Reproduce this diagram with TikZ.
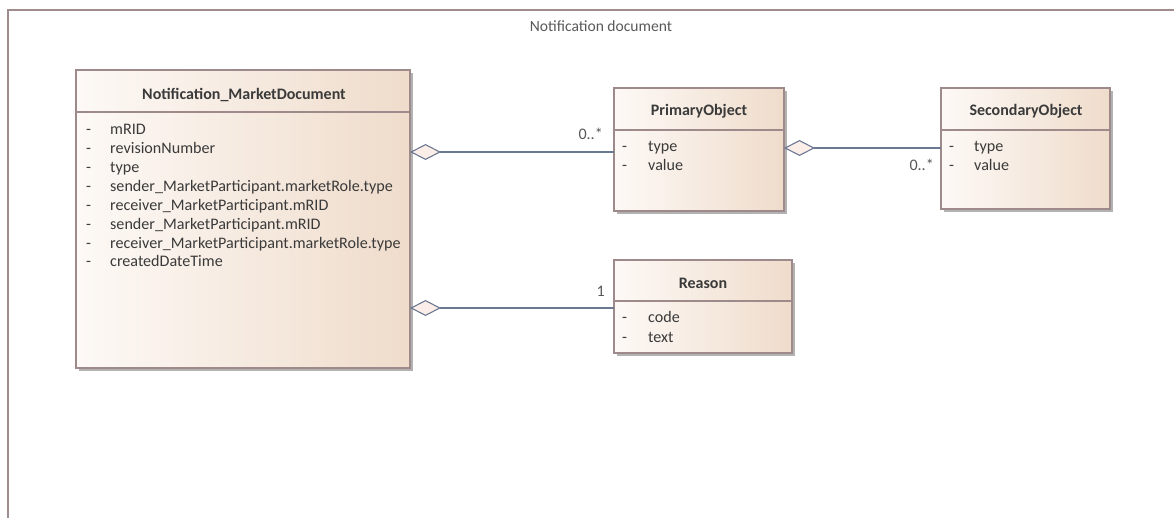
\documentclass[tikz,border=0pt]{standalone}
\usepackage{fontspec}
\setmainfont{Carlito}
\usetikzlibrary{arrows.meta,shadows,calc}
\definecolor{bord}{HTML}{9E8A8A}
\definecolor{conn}{HTML}{6B7891}
\definecolor{fillL}{HTML}{FDF9F6}
\definecolor{fillR}{HTML}{EFDCCB}
\definecolor{dfill}{HTML}{FBEEE8}
\definecolor{txt}{HTML}{3A3A3A}
\definecolor{frame}{HTML}{A08C8C}
\tikzset{
  clsbox/.style={draw=bord, line width=1.1pt, inner sep=0pt, outer sep=0pt, anchor=north west,
    left color=fillL, right color=fillR, shading angle=90,
    drop shadow={shadow xshift=3pt, shadow yshift=-3pt, fill=black!30, opacity=1}},
  clstitle/.style={font=\fontsize{16}{18}\selectfont\bfseries, text=txt, inner sep=0pt},
  attr/.style={font=\fontsize{16.1}{19}\selectfont, text=txt, inner sep=0pt, anchor=base west},
  mult/.style={font=\fontsize{16.1}{19}\selectfont, text=txt!85, inner sep=0pt},
  agg/.style={draw=conn, line width=1.2pt, {Diamond[length=31pt, width=16pt, fill=dfill, line width=1.1pt]}-}
}
\begin{document}
\begin{tikzpicture}[x=1pt,y=-1pt]
\useasboundingbox (0,0) rectangle (1174,518);
% frame
\draw[frame, line width=1.3pt] (8,520) -- (8,10) -- (1176,10);
\node[font=\fontsize{15.6}{18}\selectfont, text=black!65, inner sep=0pt] (ftitle) at (601,26) {Notification document};

% Notification_MarketDocument
\node[clsbox, minimum width=334pt, minimum height=298pt] (doc) at (76,70) {};
\draw[bord, line width=1.1pt] (doc.west |- 0,112) -- (doc.east |- 0,112);
\node[clstitle] (doct) at (244,95) {Notification\_MarketDocument};
\foreach \t [count=\i from 0] in {mRID, revisionNumber, type, sender\_MarketParticipant.marketRole.type, receiver\_MarketParticipant.mRID, sender\_MarketParticipant.mRID, receiver\_MarketParticipant.marketRole.type, createdDateTime}{
  \node[attr] (da\i) at (110,{135+18.85*\i}) {\t};
  \node[attr] (dd\i) at (86,{135+18.85*\i}) {-};
}

% PrimaryObject
\node[clsbox, minimum width=170pt, minimum height=123pt] (prim) at (614,88) {};
\draw[bord, line width=1.1pt] (prim.west |- 0,130) -- (prim.east |- 0,130);
\node[clstitle] (primt) at (699,111) {PrimaryObject};
\node[attr] (pa0) at (648,152) {type};
\node[attr] (pd0) at (622,152) {-};
\node[attr] (pa1) at (648,170.5) {value};
\node[attr] (pd1) at (622,170.5) {-};

% SecondaryObject
\node[clsbox, minimum width=169pt, minimum height=121pt] (sec) at (941,88) {};
\draw[bord, line width=1.1pt] (sec.west |- 0,130) -- (sec.east |- 0,130);
\node[clstitle] (sect) at (1026,111) {SecondaryObject};
\node[attr] (sa0) at (974,152) {type};
\node[attr] (sd0) at (949,152) {-};
\node[attr] (sa1) at (974,170.5) {value};
\node[attr] (sd1) at (949,170.5) {-};

% Reason
\node[clsbox, minimum width=178pt, minimum height=93pt] (rea) at (614,260) {};
\draw[bord, line width=1.1pt] (rea.west |- 0,301) -- (rea.east |- 0,301);
\node[clstitle] (reat) at (703,283) {Reason};
\node[attr] (ra0) at (648,322) {code};
\node[attr] (rd0) at (622,322) {-};
\node[attr] (ra1) at (648,342) {text};
\node[attr] (rd1) at (622,342) {-};

% connectors
\coordinate (y1) at (0,152);
\coordinate (y2) at (0,308);
\coordinate (y3) at (0,148);
\draw[agg] (doc.east |- y1) -- (prim.west |- y1);
\draw[agg] (doc.east |- y2) -- (rea.west |- y2);
\draw[agg] (prim.east |- y3) -- (sec.west |- y3);

\node[mult, anchor=east] (m1) at (603,134) {0..*};
\node[mult, anchor=east] (m2) at (605,291) {1};
\node[mult, anchor=east] (m3) at (934,165) {0..*};
\end{tikzpicture}
\end{document}
